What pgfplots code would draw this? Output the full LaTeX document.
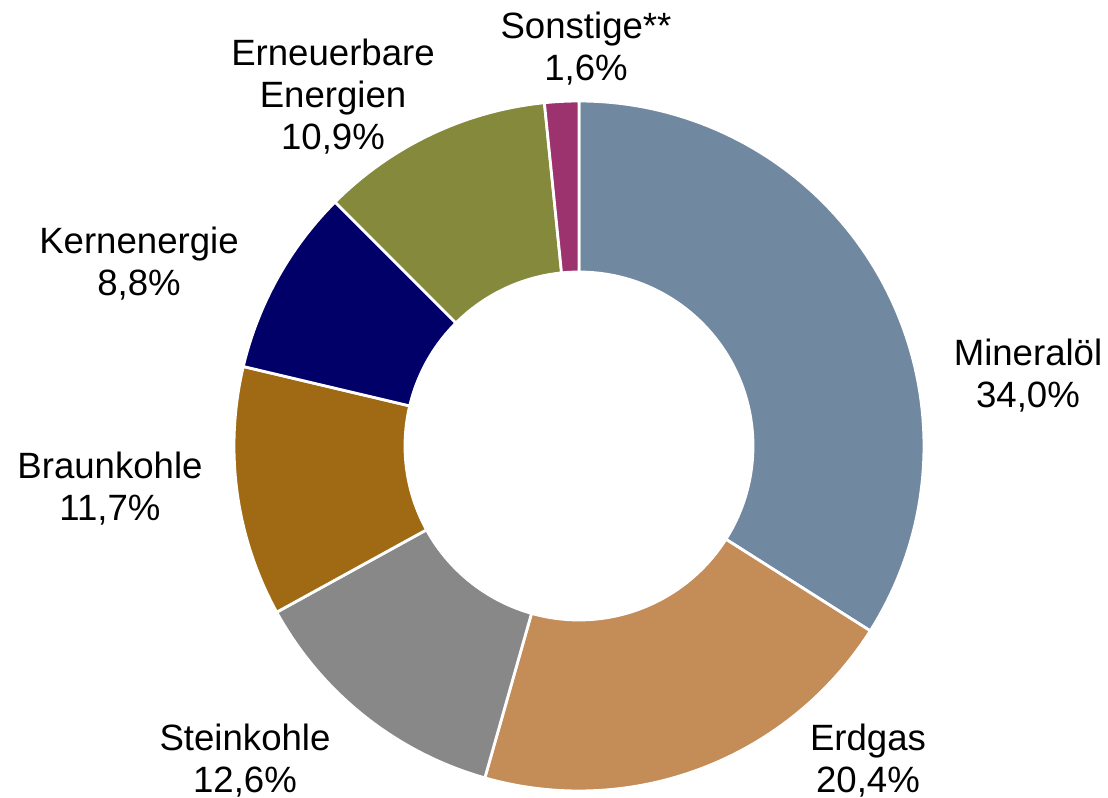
\documentclass[border=0pt]{standalone}
\usepackage{pgfplots}
\pgfplotsset{compat=1.18}
\usepgfplotslibrary{fillbetween}
\usepackage{fontspec}
\setmainfont{Liberation Sans}
\definecolor{cMin}{HTML}{7188A1}
\definecolor{cGas}{HTML}{C48C57}
\definecolor{cStein}{HTML}{888888}
\definecolor{cBraun}{HTML}{A06A14}
\definecolor{cKern}{HTML}{000068}
\definecolor{cErn}{HTML}{84893C}
\definecolor{cSon}{HTML}{9C336E}
% #1 cumulative start (percent), #2 share (percent), #3 colour, #4 id
\newcommand\seg[4]{%
  \addplot[draw=none, name path=o#4, domain={90-3.6*(#1+#2)}:{90-3.6*(#1)}, samples=90] ({345*cos(x)},{345*sin(x)});
  \addplot[draw=none, name path=i#4, domain={90-3.6*(#1+#2)}:{90-3.6*(#1)}, samples=90] ({174*cos(x)},{174*sin(x)});
  \addplot[fill=#3, draw=white, line width=1.4pt] fill between[of=o#4 and i#4];
}
\begin{document}
\begin{tikzpicture}
\begin{axis}[x=0.5pt, y=0.5pt, xmin=-579, xmax=529, ymin=-351, ymax=446,
  hide axis, clip=false, axis line style={draw=none}]
\seg{0}{34.0}{cMin}{a}
\seg{34.0}{20.4}{cGas}{b}
\seg{54.4}{12.6}{cStein}{c}
\seg{67.0}{11.7}{cBraun}{d}
\seg{78.7}{8.8}{cKern}{e}
\seg{87.5}{10.9}{cErn}{f}
\seg{98.4}{1.6}{cSon}{g}
\path (axis cs:-579,-351) rectangle (axis cs:529,446);
\tikzset{lbl/.style={align=center, font=\fontsize{18.3}{21}\selectfont, inner sep=0pt}}
\node[lbl] at (axis cs:7,397) {Sonstige**\\1,6\%};
\node[lbl] at (axis cs:-246,349) {Erneuerbare\\Energien\\10,9\%};
\node[lbl] at (axis cs:-440,182) {Kernenergie\\8,8\%};
\node[lbl] at (axis cs:-469,-43) {Braunkohle\\11,7\%};
\node[lbl] at (axis cs:-334,-315) {Steinkohle\\12,6\%};
\node[lbl] at (axis cs:289,-315) {Erdgas\\20,4\%};
\node[lbl] at (axis cs:449,70) {Mineralöl\\34,0\%};
\end{axis}
\end{tikzpicture}
\end{document}
